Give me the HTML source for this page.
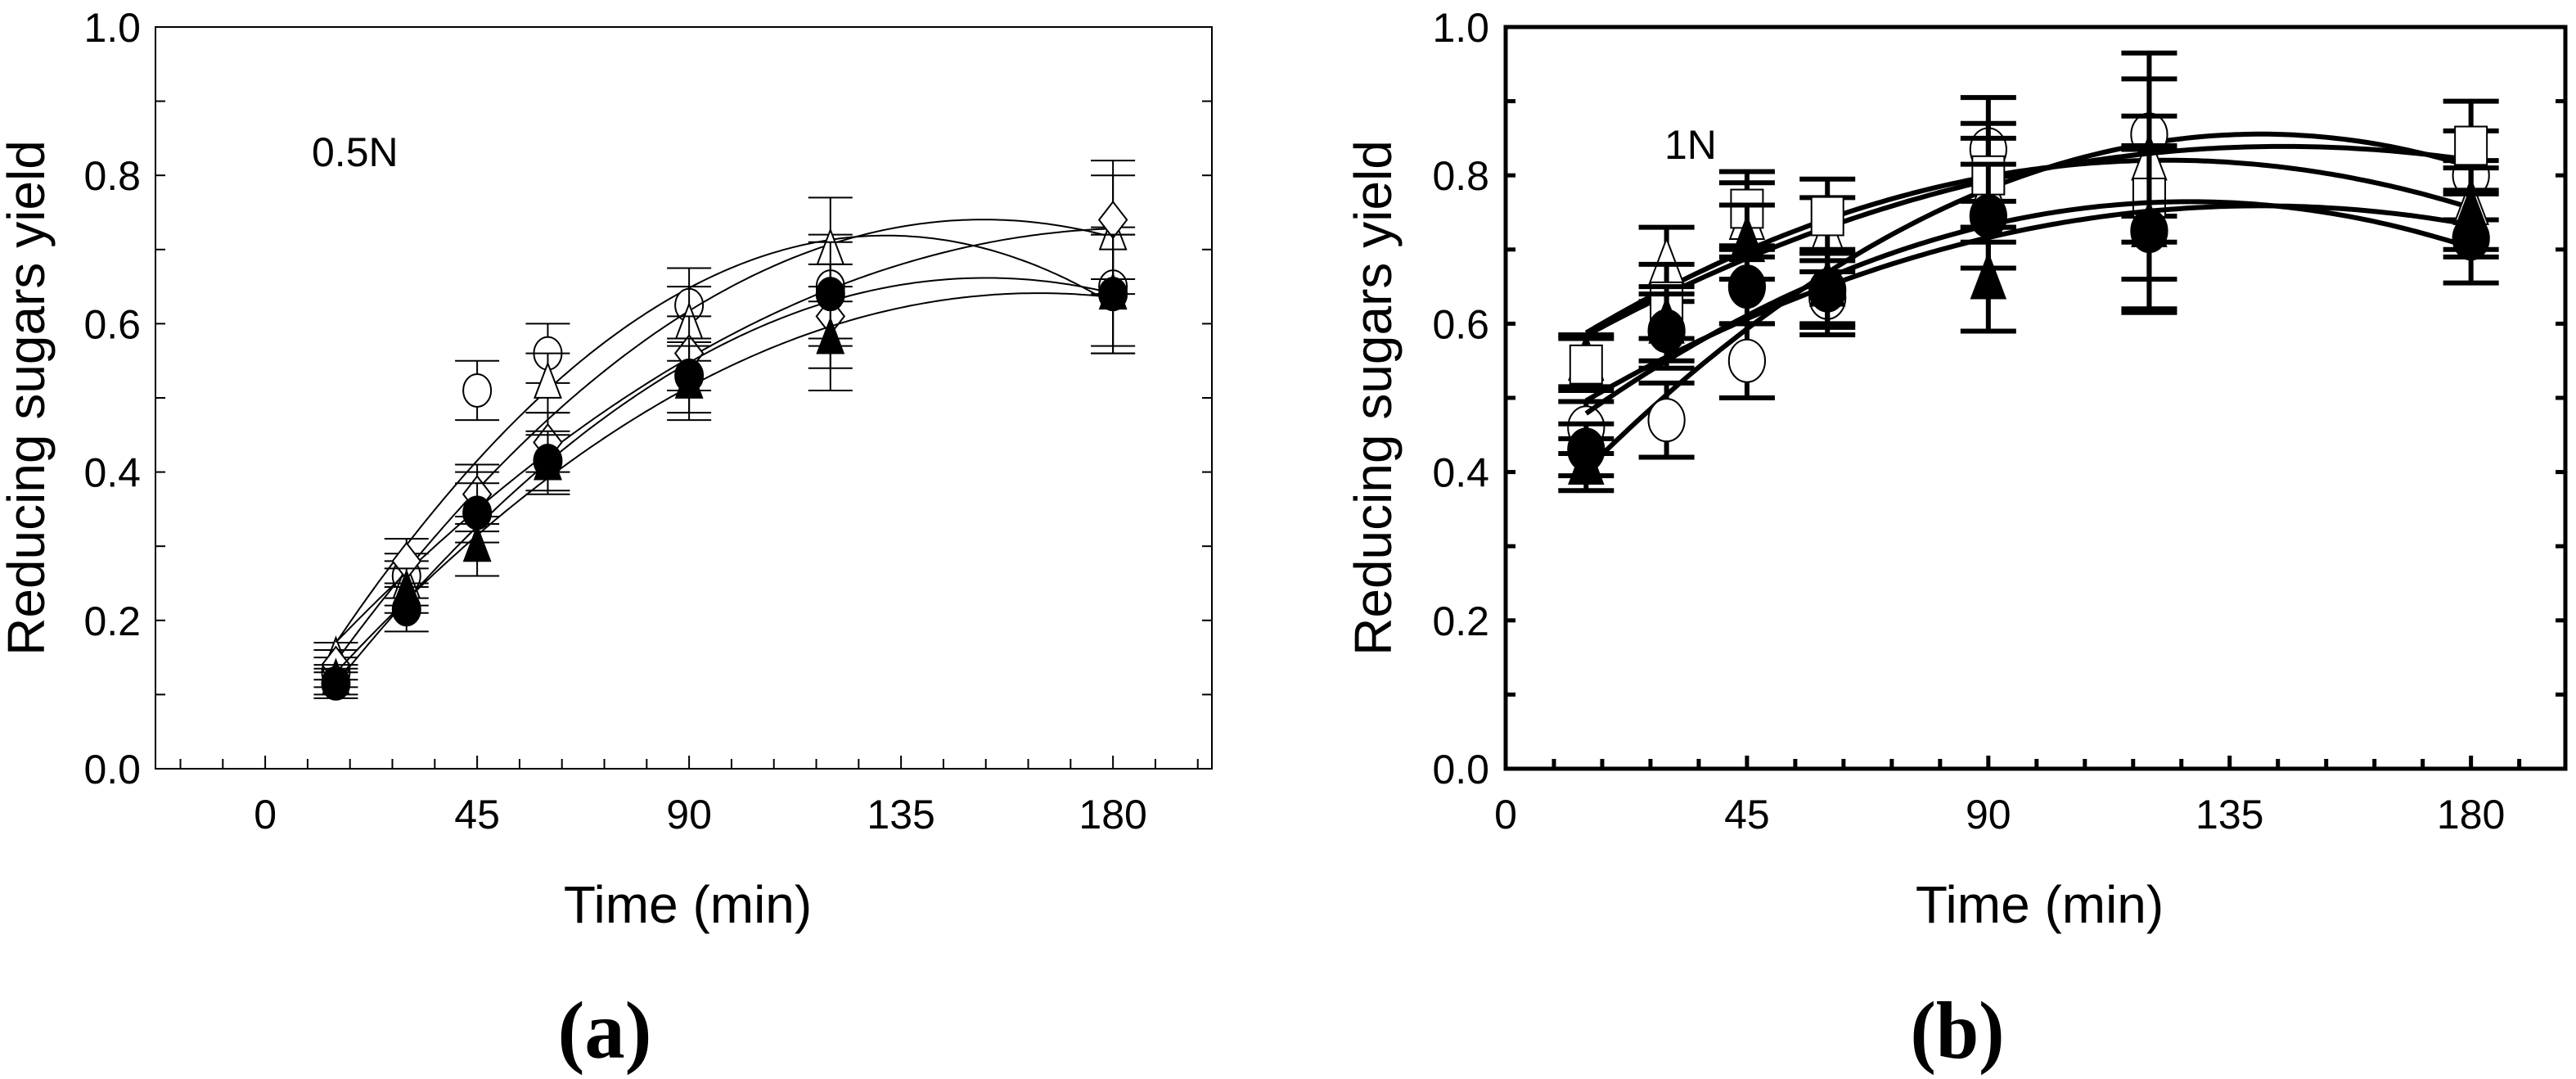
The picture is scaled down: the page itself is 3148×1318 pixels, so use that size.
<!DOCTYPE html>
<html><head><meta charset="utf-8"><style>
html,body{margin:0;padding:0;background:#fff;}
svg{display:block;}
text{font-family:"Liberation Sans",Arial,sans-serif;fill:#000;}
</style></head><body>
<svg id="chart" width="3148" height="1318" viewBox="0 0 3148 1318" xmlns="http://www.w3.org/2000/svg"></svg>
<script>
const times = [15, 30, 45, 60, 90, 120, 180];
const xTicks = [0, 45, 90, 135, 180];
const yTicks = [0.0, 0.2, 0.4, 0.6, 0.8, 1.0];
// Panel a (0.5N)
const aOpenCircle   = [0.13, 0.26, 0.51, 0.56, 0.625, 0.65, 0.65];
const aOpenTriangle = [0.15, 0.25, 0.36, 0.52, 0.60, 0.70, 0.72];
const aOpenDiamond  = [0.14, 0.28, 0.37, 0.44, 0.56, 0.61, 0.74];
const aFillTriangle = [0.12, 0.24, 0.30, 0.41, 0.52, 0.58, 0.64];
const aFillCircle   = [0.115, 0.215, 0.345, 0.415, 0.53, 0.64, 0.64];
const aErr          = [0.02, 0.03, 0.04, 0.04, 0.05, 0.07, 0.08];
// Panel b (1N)
const bOpenCircle   = [0.46, 0.47, 0.55, 0.635, 0.835, 0.855, 0.80];
const bOpenTriangle = [0.55, 0.68, 0.74, 0.72, 0.78, 0.82, 0.76];
const bOpenSquare   = [0.545, 0.63, 0.755, 0.745, 0.80, 0.77, 0.84];
const bFillTriangle = [0.41, 0.60, 0.71, 0.65, 0.66, 0.73, 0.75];
const bFillCircle   = [0.43, 0.59, 0.65, 0.645, 0.745, 0.725, 0.715];
const bErr          = [0.035, 0.05, 0.05, 0.05, 0.07, 0.11, 0.06];

const NS = "http://www.w3.org/2000/svg";
const svg = document.getElementById('chart');
function el(tag, attrs, parent){ const e=document.createElementNS(NS,tag); for(const k in attrs) e.setAttribute(k,attrs[k]); (parent||svg).appendChild(e); return e; }

function fitQuad(xs, ys){
  let S=[0,0,0,0,0], T=[0,0,0];
  for(let i=0;i<xs.length;i++){ const x=xs[i]; let p=1; for(let k=0;k<5;k++){S[k]+=p; if(k<3)T[k]+=p*ys[i]; p*=x;} }
  const M=[[S[0],S[1],S[2],T[0]],[S[1],S[2],S[3],T[1]],[S[2],S[3],S[4],T[2]]];
  for(let i=0;i<3;i++){ for(let j=i+1;j<3;j++){ const f=M[j][i]/M[i][i]; for(let k=i;k<4;k++) M[j][k]-=f*M[i][k]; } }
  const c=[0,0,0];
  for(let i=2;i>=0;i--){ let s=M[i][3]; for(let k=i+1;k<3;k++) s-=M[i][k]*c[k]; c[i]=s/M[i][i]; }
  return x=>c[0]+c[1]*x+c[2]*x*x;
}

function panel(cfg){
  const g = el('g',{});
  
  
  const X = t => cfg.x0 + (t - cfg.xmin)/(cfg.xmax-cfg.xmin)*(cfg.x1-cfg.x0);
  const Y = v => cfg.yb - v*(cfg.yb-cfg.yt);
  const lw = cfg.lw, ms = cfg.ms;
  for(let t=Math.ceil(cfg.xmin/9)*9; t<=cfg.xmax; t+=9){
    const tk = el('line',{x1:X(t),x2:X(t),y1:cfg.yb,y2:cfg.yb-(t%45===0?16:12),stroke:'#000','stroke-width':Math.max(2,lw-1)},g);
    
    
  }
  for(let v=0.1; v<1.0; v+=0.1){
    const l=el('line',{x1:cfg.x0,x2:cfg.x0+12,y1:Y(v),y2:Y(v),stroke:'#000','stroke-width':Math.max(2,lw-1)},g);
    
    
    const r=el('line',{x1:cfg.x1,x2:cfg.x1-12,y1:Y(v),y2:Y(v),stroke:'#000','stroke-width':Math.max(2,lw-1)},g);
    
    
  }
  const fr = el('rect',{x:cfg.x0,y:cfg.yt,width:cfg.x1-cfg.x0,height:cfg.yb-cfg.yt,fill:'none',stroke:'#000','stroke-width':cfg.frame},g);
  
  
  xTicks.forEach(t=>{
    const s=String(t);
    const tx=el('text',{x:X(t),y:cfg.yb+73,'font-size':50,'text-anchor':'middle'},g); tx.textContent=s;
    
    
  });
  yTicks.forEach(v=>{
    const tx=el('text',{x:cfg.x0-cfg.ylgap,y:Y(v)+18,'font-size':50,'text-anchor':'end'},g); tx.textContent=v.toFixed(1);
    
    
  });
  const xt=el('text',{x:(cfg.x0+cfg.x1)/2+5,y:cfg.yb+188,'font-size':64,'text-anchor':'middle'},g); xt.textContent='Time (min)';
  
  
  const yt=el('text',{x:0,y:0,'font-size':64,'text-anchor':'middle',transform:`translate(${cfg.ytx},${(cfg.yt+cfg.yb)/2}) rotate(-90)`},g); yt.textContent='Reducing sugars yield';
  
  
  const lab=el('text',{x:cfg.labx,y:cfg.laby,'font-size':50},g); lab.textContent=cfg.label;
  
  
  const cap=el('text',{x:cfg.capx,y:1292,'font-size':100,'font-weight':'bold','text-anchor':'middle',textLength:115,lengthAdjust:'spacingAndGlyphs',style:'font-family:"Liberation Serif",serif'},g); cap.textContent=cfg.caption;
  
  

  cfg.series.forEach(s=>{
    const sg=el('g',{},g);
    
    
    const f=fitQuad(times,s.vals);
    let d='';
    for(let t=times[0];t<=times[times.length-1]+0.01;t+=1){ d+=(d?'L':'M')+X(t).toFixed(1)+','+Y(f(t)).toFixed(1); }
    const fl=el('path',{d:d,fill:'none',stroke:'#000','stroke-width':lw},sg);
    
    
    times.forEach((t,i)=>{
      const v=s.vals[i], e=cfg.err[i], cx=X(t), cy=Y(v), hw=cfg.cap;
      const eb=el('path',{d:`M${cx},${Y(v+e)}L${cx},${Y(v-e)}M${cx-hw},${Y(v+e)}L${cx+hw},${Y(v+e)}M${cx-hw},${Y(v-e)}L${cx+hw},${Y(v-e)}`,stroke:'#000','stroke-width':lw,fill:'none'},sg);
      
      
      const fill=s.filled?'#000':'#fff', st={stroke:'#000','stroke-width':2,fill:fill};
      let m;
      if(s.shape==='circle') m=el('ellipse',Object.assign({cx:cx,cy:cy,rx:17*ms,ry:20*ms},st),sg);
      else if(s.shape==='triangle') m=el('polygon',Object.assign({points:`${cx},${cy-24*ms} ${cx-16*ms},${cy+18*ms} ${cx+16*ms},${cy+18*ms}`},st),sg);
      else if(s.shape==='diamond') m=el('polygon',Object.assign({points:`${cx},${cy-22*ms} ${cx+17*ms},${cy} ${cx},${cy+22*ms} ${cx-17*ms},${cy}`},st),sg);
      else m=el('rect',Object.assign({x:cx-15*ms,y:cy-18*ms,width:30*ms,height:36*ms},st),sg);
      
      
    });
  });
}

panel({name:'panel-a',x0:190,x1:1481,xmin:-23.3,xmax:201,yt:33,yb:939,lw:2,frame:2,cap:27,ms:1,err:aErr,ylgap:18,
  ytx:54,labx:381,laby:203,label:'0.5N',capx:739,caption:'(a)',
  series:[
    {name:'open-circle',shape:'circle',filled:false,vals:aOpenCircle},
    {name:'open-triangle',shape:'triangle',filled:false,vals:aOpenTriangle},
    {name:'open-diamond',shape:'diamond',filled:false,vals:aOpenDiamond},
    {name:'filled-triangle',shape:'triangle',filled:true,vals:aFillTriangle},
    {name:'filled-circle',shape:'circle',filled:true,vals:aFillCircle}
  ]});
panel({name:'panel-b',x0:1840,x1:3135,xmin:0,xmax:197.6,yt:33,yb:939,lw:6,frame:5,cap:34,ms:1.3,err:bErr,ylgap:20,
  ytx:1700,labx:2034,laby:194,label:'1N',capx:2392,caption:'(b)',
  series:[
    {name:'open-circle',shape:'circle',filled:false,vals:bOpenCircle},
    {name:'open-triangle',shape:'triangle',filled:false,vals:bOpenTriangle},
    {name:'open-square',shape:'square',filled:false,vals:bOpenSquare},
    {name:'filled-triangle',shape:'triangle',filled:true,vals:bFillTriangle},
    {name:'filled-circle',shape:'circle',filled:true,vals:bFillCircle}
  ]});
</script>
</body></html>
